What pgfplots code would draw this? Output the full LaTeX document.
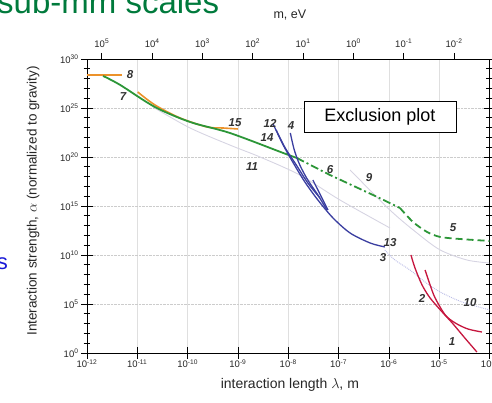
\documentclass[border=0pt]{standalone}
\usepackage{fontspec}
\setmainfont{Liberation Sans}
\usepackage{pgfplots}
\pgfplotsset{compat=1.18}
\definecolor{corange}{RGB}{236,146,42}
\definecolor{cgreen}{RGB}{44,150,56}
\definecolor{cblue}{RGB}{58,62,160}
\definecolor{cred}{RGB}{198,22,62}
\definecolor{cgray}{RGB}{214,212,226}
\definecolor{clav}{RGB}{182,184,228}
\definecolor{ctitle}{RGB}{0,122,60}
\definecolor{cs}{RGB}{25,25,215}
\begin{document}
\begin{tikzpicture}[x=1pt,y=1pt]
\begin{axis}[
  at={(0pt,0pt)}, anchor=south west,
  scale only axis, width=402.5pt, height=294pt,
  xmode=log, ymode=log, log basis x=10, log basis y=10,
  xmin=1e-12, xmax=1e-4, ymin=1, ymax=1e30,
  xtick={1e-12,1e-11,1e-10,1e-9,1e-8,1e-7,1e-6,1e-5,1e-4},
  xminorticks=false,
  ytick={1,1e5,1e10,1e15,1e20,1e25,1e30},
  minor ytick={1e1,1e2,1e3,1e4,1e6,1e7,1e8,1e9,1e11,1e12,1e13,1e14,1e16,1e17,1e18,1e19,1e21,1e22,1e23,1e24,1e26,1e27,1e28,1e29},
  tick align=center,
  major tick length=12pt, minor tick length=7pt,
  xtick pos=bottom, ytick pos=both,
  grid=major,
  x grid style={gray!25, line width=0.5pt},
  y grid style={gray!40, densely dotted, line width=0.7pt},
  axis line style={line width=0.8pt},
  every tick/.style={black, line width=0.7pt},
  tick label style={font=\fontsize{9.5}{10}\selectfont, text=black!85},
  xticklabel style={yshift=3pt},
  yticklabel style={xshift=1pt},
  xticklabel={\pgfmathparse{int(round(\tick))}10\textsuperscript{\pgfmathresult}},
  yticklabel={\pgfmathparse{int(round(\tick))}10\textsuperscript{\pgfmathresult}},
  xlabel={interaction length $\lambda$, m},
  ylabel={Interaction strength, $\alpha$ (normalized to gravity)},
  xlabel style={at={(axis description cs:0.504,-0.109)}, anchor=center, font=\fontsize{14}{15}\selectfont, text=black!85},
  ylabel style={at={(axis description cs:-0.134,0.517)}, anchor=center, rotate=0, font=\fontsize{13.5}{15}\selectfont, text=black!85},
]
% faint gray / lavender curves
\addplot[cgray, line width=0.9pt, smooth] coordinates {
 (2.04e-11,1.26e25) (1.12e-10,9.12e22) (6.92e-10,1.66e21) (2.75e-9,1e20)
 (1.70e-8,1.45e18) (1.07e-7,4.07e15) (1.05e-6,5.75e12)};
\addplot[cgray, line width=0.9pt, smooth] coordinates {
 (1.70e-7,4.68e18) (1.05e-6,3.89e14) (3.63e-6,1.74e12) (1.05e-5,3.24e10)
 (3.55e-5,3.09e9) (1.02e-4,1.51e9)};
\addplot[clav, line width=0.9pt, densely dotted, smooth] coordinates {
 (8.32e-7,3.24e10) (1.32e-6,3.09e9) (2.63e-6,2.95e8) (5.25e-6,1.74e7)
 (1.05e-5,1.66e6) (2.88e-5,1.58e5) (1.02e-4,2.45e4)};
% orange
\addplot[corange, line width=1.6pt] coordinates {(1e-12,2.4e28) (5.0e-12,2.4e28)};
\addplot[corange, line width=1.6pt, smooth] coordinates {
 (1.02e-11,4.27e26) (2.24e-11,2.04e25) (7.08e-11,9.55e23) (2.45e-10,1.15e23)
 (5.01e-10,9.12e22) (1.0e-9,7.24e22)};
% green
\addplot[cgreen, line width=1.8pt, smooth] coordinates {
 (2.09e-12,1.86e28) (4.57e-12,2.24e27) (2.24e-11,1.26e25) (1.12e-10,3.72e23)
 (6.92e-10,2.82e22) (7.94e-9,2.57e20) (1.48e-8,7.94e19)};
\addplot[cgreen, line width=1.8pt, dash pattern=on 8pt off 3pt on 2pt off 3pt] coordinates {
 (1.48e-8,7.94e19) (6.76e-8,1.45e18) (5.89e-7,8.32e15) (1.66e-6,6.31e14)};
\addplot[cgreen, line width=1.8pt, dash pattern=on 7pt off 4pt, smooth] coordinates {
 (1.66e-6,6.31e14) (3.02e-6,2.34e13) (5.75e-6,2.24e12) (1.05e-5,6.92e11)
 (2.63e-5,4.27e11) (1.02e-4,2.69e11)};
% blue
\addplot[cblue, line width=1.3pt, smooth] coordinates {
 (5.01e-9,2.34e23) (7.94e-9,1.66e21) (1.26e-8,2.45e19) (2.14e-8,2.82e17)
 (3.89e-8,4.07e15) (7.76e-8,6.03e13) (1.70e-7,1.74e12) (4.27e-7,1.66e11) (8.32e-7,6.61e10)};
\addplot[cblue, line width=1.3pt, smooth] coordinates {
 (5.75e-9,5.75e22) (8.71e-9,8.32e20) (1.45e-8,1.51e19) (2.45e-8,2.24e17) (4.27e-8,6.61e15)};
\addplot[cblue, line width=1.3pt, smooth] coordinates {
 (1.10e-8,2.82e22) (1.32e-8,5.13e20) (1.70e-8,1.51e19) (2.45e-8,4.47e17)
 (3.89e-8,1.32e16) (5.89e-8,3.89e14)};
\addplot[cblue, line width=1.3pt, smooth] coordinates {
 (3.09e-8,4.47e17) (3.89e-8,4.27e16) (4.90e-8,4.07e15) (6.17e-8,3.89e14)};
% red
\addplot[cred, line width=1.3pt, smooth] coordinates {
 (2.75e-6,1e10) (3.31e-6,4.68e8) (4.57e-6,8.71e6) (6.61e-6,4.07e5)
 (1.15e-5,1.51e4) (1.82e-5,1.15e3) (3.24e-5,33.9) (5.62e-5,1.26)};
\addplot[cred, line width=1.3pt, smooth] coordinates {
 (5.25e-6,2.95e8) (6.61e-6,8.71e6) (8.32e-6,4.07e5) (1.32e-5,7.59e3)
 (2.09e-5,1.15e3) (3.72e-5,282) (7.08e-5,138)};
\end{axis}
\begin{axis}[
  at={(0pt,0pt)}, anchor=south west,
  scale only axis, width=402.5pt, height=294pt,
  xmode=log, log basis x=10, x dir=reverse,
  xmin=1.9733e-3, xmax=1.9733e5, ymin=0, ymax=1,
  axis x line*=top, axis y line=none,
  xtick={1e-2,1e-1,1,1e1,1e2,1e3,1e4,1e5}, xminorticks=false,
  tick align=outside, major tick length=6pt,
  axis line style={line width=0.8pt},
  every tick/.style={black, line width=0.7pt},
  tick label style={font=\fontsize{9.5}{10}\selectfont, text=black!85},
  xticklabel style={yshift=2pt},
  xticklabel={\pgfmathparse{int(round(\tick))}10\textsuperscript{\pgfmathresult}},
  xlabel={m, eV},
  xlabel style={at={(axis description cs:0.504,1)}, anchor=center, yshift=44pt, font=\fontsize{12.5}{13}\selectfont, text=black!85},
]
\addplot[draw=none] coordinates {(1,0.5)};
\end{axis}
% curve labels
\begin{scope}[every node/.style={font=\fontsize{11.5}{12}\selectfont\bfseries\itshape, text=black!80}]
\node at (43,278) {8};
\node at (36,256) {7};
\node at (148,230) {15};
\node at (183,230) {12};
\node at (180,215) {14};
\node at (204,227) {4};
\node at (243,183) {6};
\node at (282,175) {9};
\node at (165,186) {11};
\node at (303,110) {13};
\node at (296,95) {3};
\node at (366,125) {5};
\node at (335,55) {2};
\node at (383,50) {10};
\node at (365,11) {1};
\end{scope}
\node[draw=black, line width=0.6pt, fill=white, minimum width=152pt, minimum height=31pt, inner sep=0pt,
      font=\fontsize{18}{20}\selectfont] at (293,236.5) {Exclusion plot};
\node[anchor=base west, text=ctitle, font=\fontsize{33}{36}\selectfont, inner sep=0pt] at (-90,339) {sub-mm scales};
\node[anchor=base east, text=cs, font=\fontsize{22}{24}\selectfont, inner sep=0pt] at (-79,83) {s};
\pgfresetboundingbox
\useasboundingbox (-87,-50) rectangle (405,353);
\end{tikzpicture}
\end{document}
